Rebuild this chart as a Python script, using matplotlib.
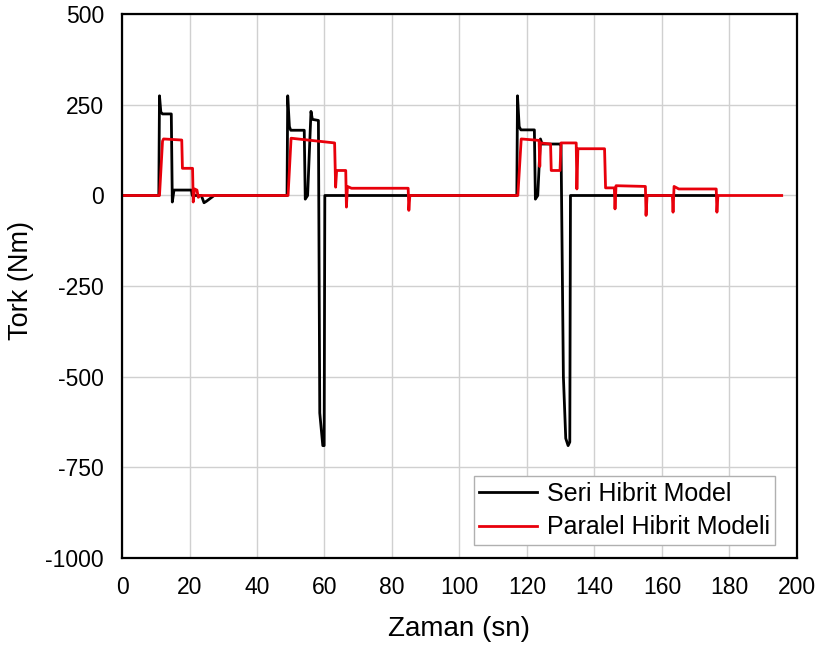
import matplotlib
matplotlib.use("Agg")
import matplotlib.pyplot as plt

plt.rcParams['font.family'] = ['Liberation Sans', 'DejaVu Sans']
plt.rcParams['axes.unicode_minus'] = False

# Seri Hibrit Model (black)
seri_t = [0, 10.9, 11.1, 11.5, 12.0, 14.6, 14.9, 15.4, 20.6, 20.8, 23.5, 24.3, 25.0, 27.3,
          48.9, 49.1, 49.6, 50.0, 54.0, 54.3, 55.0, 56.0, 56.4, 58.2, 58.6, 59.5, 59.9, 60.1,
          117.0, 117.2, 117.7, 118.2, 122.2, 122.5, 123.2, 124.0, 124.5, 129.8, 130.1, 130.8,
          131.5, 132.2, 132.7, 132.9, 176.3]
seri_tork = [0, 0, 275, 230, 225, 225, -18, 15, 15, 0, 0, -20, -16, 0,
             0, 275, 190, 180, 180, -10, 0, 232, 210, 207, -600, -690, -690, 0,
             0, 275, 190, 181, 181, -10, 0, 156, 142, 142, 140, -500,
             -670, -690, -680, 0, 0]

# Paralel Hibrit Modeli (red)
paralel_t = [0, 11.1, 12.0, 12.3, 17.7, 17.9, 20.9, 21.1, 21.5, 22.2, 22.6, 23.2,
             49.2, 50.1, 63.0, 63.3, 63.6, 66.3, 66.5, 66.8, 68.0, 84.8, 85.0, 85.3,
             117.3, 118.3, 123.6, 123.8, 124.0, 127.0, 127.2, 129.8, 130.1, 134.6, 134.8, 135.1,
             143.0, 143.3, 145.9, 146.1, 146.4, 155.1, 155.3, 155.6,
             163.1, 163.3, 163.6, 165.0, 176.1, 176.3, 176.6, 195.5]
paralel_tork = [0, 0, 150, 156, 153, 75, 75, -18, 18, 15, -5, 0,
                0, 158, 145, 23, 69, 69, -32, 25, 20, 20, -41, 0,
                0, 156, 152, 80, 145, 142, 69, 69, 145, 145, 18, 129,
                129, 21, 21, -37, 27, 25, -55, 0,
                0, -46, 25, 18, 18, -46, 0, 0]

fig = plt.figure(figsize=(8.19, 6.5), dpi=100)
ax = fig.add_axes([0.149, 0.1415, 0.824, 0.8366])

ax.plot(seri_t, seri_tork, color='black', linewidth=2, label='Seri Hibrit Model')
ax.plot(paralel_t, paralel_tork, color='#e8000b', linewidth=2, label='Paralel Hibrit Modeli')

ax.set_xlim(0, 200)
ax.set_ylim(-1000, 500)
ax.set_xticks(range(0, 201, 20))
ax.set_yticks(range(-1000, 501, 250))
ax.grid(True, color='#d0d0d0', linewidth=1)
ax.set_axisbelow(True)
ax.tick_params(length=0, labelsize=16.5, pad=13)
for sp in ax.spines.values():
    sp.set_color('black')
    sp.set_linewidth(1.6)

ax.set_xlabel('Zaman (sn)', fontsize=20, labelpad=12)
ax.set_ylabel('Tork (Nm)', fontsize=19.5)
ax.yaxis.set_label_coords(-0.131, 0.51)

leg = ax.legend(loc='lower right', bbox_to_anchor=(0.968, 0.024), borderaxespad=0,
                fontsize=18, handlelength=2.3, handletextpad=0.4, labelspacing=0.38,
                borderpad=0.22, fancybox=False, framealpha=1)
leg.get_frame().set_edgecolor('#b0b0b0')
leg.get_frame().set_linewidth(1)

fig.savefig('out.png', dpi=100)
